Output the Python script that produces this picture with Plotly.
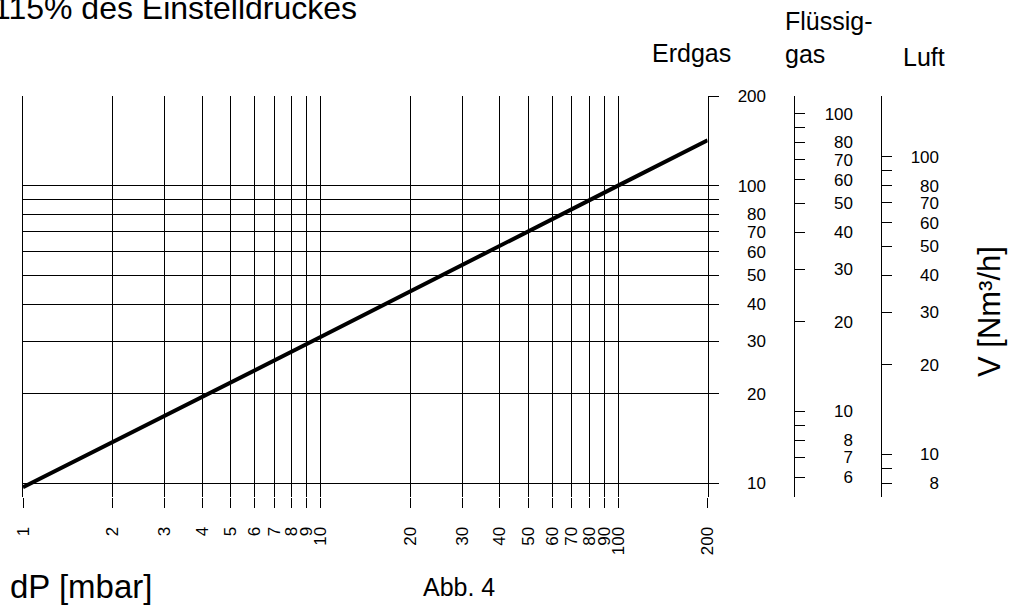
import math
import plotly.graph_objects as go

# ---------------- data ----------------
dp_mbar = [1, 10, 100, 200]
v_erdgas = [9.7, 31, 100, 142]

x_tick_values = [1, 2, 3, 4, 5, 6, 7, 8, 9, 10, 20, 30, 40, 50, 60, 70, 80, 90, 100, 200]
x_tick_labels = [str(v) for v in x_tick_values]

erdgas_ticks = [10, 20, 30, 40, 50, 60, 70, 80, 90, 100, 200]
erdgas_label_values = [10, 20, 30, 40, 50, 60, 70, 80, 100, 200]
erdgas_labels = ["10", "20", "30", "40", "50", "60", "70", "80", "100", "200"]

fluessiggas_ticks = [6, 7, 8, 9, 10, 20, 30, 40, 50, 60, 70, 80, 90, 100]
fluessiggas_label_values = [6, 7, 8, 10, 20, 30, 40, 50, 60, 70, 80, 100]
fluessiggas_labels = ["6", "7", "8", "10", "20", "30", "40", "50", "60", "70", "80", "100"]

luft_ticks = [8, 9, 10, 20, 30, 40, 50, 60, 70, 80, 90, 100]
luft_label_values = [8, 10, 20, 30, 40, 50, 60, 70, 80, 100]
luft_labels = ["8", "10", "20", "30", "40", "50", "60", "70", "80", "100"]

# flow conversion: Erdgas flow = factor * other-gas flow
fluessiggas_factor = 1.745
luft_factor = 1.25

dp_range = [1, 200]
erdgas_range = [9.0, 200]

# ---------------- layout geometry ----------------
W, H = 1018, 608
ML, MR, MT, MB = 23, 20, 96, 111
PW = W - ML - MR
PH = H - MT - MB
FONT = "Arial, Liberation Sans, sans-serif"


def px_x(px):
    return (px - ML) / PW


def px_y(py):
    return (H - MB - py) / PH


def lg(v):
    return math.log10(v)


eps = 1e-5
y_rng = [lg(erdgas_range[0]), lg(erdgas_range[1]) + eps]
fl_rng = [y_rng[0] - lg(fluessiggas_factor), y_rng[1] - lg(fluessiggas_factor)]
lu_rng = [y_rng[0] - lg(luft_factor), y_rng[1] - lg(luft_factor)]

fig = go.Figure()
fig.add_trace(go.Scatter(
    x=dp_mbar, y=v_erdgas, mode="lines",
    line=dict(color="black", width=4),
    hoverinfo="skip", showlegend=False, cliponaxis=False,
))

# invisible anchor traces so every auxiliary axis exists
for ax in ["y2", "y3", "y4", "y5", "y6"]:
    fig.add_trace(go.Scatter(x=[10], y=[10], yaxis=ax, mode="markers",
                             marker=dict(size=1, opacity=0),
                             hoverinfo="skip", showlegend=False))

tick_font = dict(family=FONT, size=17, color="black")
GRID_W = 1

xdom_end = px_x(707.6)

common = dict(automargin=False, zeroline=False)

fig.update_layout(
    width=W, height=H,
    margin=dict(l=ML, r=MR, t=MT, b=MB, autoexpand=False),
    paper_bgcolor="white", plot_bgcolor="white",
    showlegend=False,
    xaxis=dict(
        type="log", domain=[0, xdom_end],
        range=[lg(dp_range[0]) - eps, lg(dp_range[1]) + eps],
        tickvals=x_tick_values, ticktext=x_tick_labels,
        tickangle=-90, tickfont=tick_font,
        ticks="outside", ticklen=10, tickwidth=GRID_W, tickcolor="black",
        ticklabelstandoff=12,
        showgrid=True, gridcolor="black", gridwidth=GRID_W,
        showline=False, **common,
    ),
    yaxis=dict(
        type="log", range=y_rng, side="right",
        tickvals=erdgas_ticks, showticklabels=False,
        ticks="outside", ticklen=10, tickwidth=GRID_W, tickcolor="black",
        showgrid=True, gridcolor="black", gridwidth=GRID_W,
        showline=True, mirror=True, linecolor="black", linewidth=GRID_W,
        **common,
    ),
    yaxis2=dict(
        type="log", range=fl_rng, overlaying="y", anchor="free",
        position=px_x(794.3), side="right",
        tickvals=fluessiggas_ticks, showticklabels=False,
        ticks="outside", ticklen=10, tickwidth=GRID_W, tickcolor="black",
        showline=True, linecolor="black", linewidth=GRID_W,
        showgrid=False, **common,
    ),
    yaxis3=dict(
        type="log", range=lu_rng, overlaying="y", anchor="free",
        position=px_x(881), side="right",
        tickvals=luft_ticks, showticklabels=False,
        ticks="outside", ticklen=10, tickwidth=GRID_W, tickcolor="black",
        showline=True, linecolor="black", linewidth=GRID_W,
        showgrid=False, **common,
    ),
    yaxis4=dict(
        type="log", range=y_rng, overlaying="y", anchor="free",
        position=px_x(766), side="left",
        tickvals=erdgas_label_values, ticktext=erdgas_labels,
        tickfont=tick_font, ticks="", showline=False,
        showgrid=False, **common,
    ),
    yaxis5=dict(
        type="log", range=fl_rng, overlaying="y", anchor="free",
        position=px_x(853), side="left",
        tickvals=fluessiggas_label_values, ticktext=fluessiggas_labels,
        tickfont=tick_font, ticks="", showline=False,
        showgrid=False, **common,
    ),
    yaxis6=dict(
        type="log", range=lu_rng, overlaying="y", anchor="free",
        position=px_x(939), side="left",
        tickvals=luft_label_values, ticktext=luft_labels,
        tickfont=tick_font, ticks="", showline=False,
        showgrid=False, **common,
    ),
)


def add_text(text, px, py_baseline, size, xanchor="left", angle=0):
    fig.add_annotation(
        text=text, xref="paper", yref="paper",
        x=px_x(px), y=px_y(py_baseline - 0.35 * size),
        xanchor=xanchor, yanchor="middle", showarrow=False,
        textangle=angle, align="left",
        font=dict(family=FONT, size=size, color="black"),
    )


add_text("115% des Einstelldruckes", -9, 19.5, 32)
add_text("Erdgas", 650, 61.7, 25)
add_text("Luft", 901, 65.7, 25)
add_text("dP [mbar]", 8, 598.3, 33)
add_text("Abb. 4", 421, 595.7, 25)

fig.add_annotation(
    text="Flüssig-<br>gas", xref="paper", yref="paper",
    x=px_x(783), y=px_y(46 - 0.35 * 25), xanchor="left", yanchor="middle",
    showarrow=False, align="left",
    font=dict(family=FONT, size=25, color="black"),
)

fig.add_annotation(
    text="V [Nm³/h]", xref="paper", yref="paper",
    x=px_x(989), y=px_y(312), xanchor="center", yanchor="middle",
    showarrow=False, textangle=-90,
    font=dict(family=FONT, size=31, color="black"),
)

fig.write_html(
    "out.html",
    config={"displayModeBar": False, "staticPlot": True},
    post_script="document.body.style.margin='0px';document.body.style.padding='0px';",
)
